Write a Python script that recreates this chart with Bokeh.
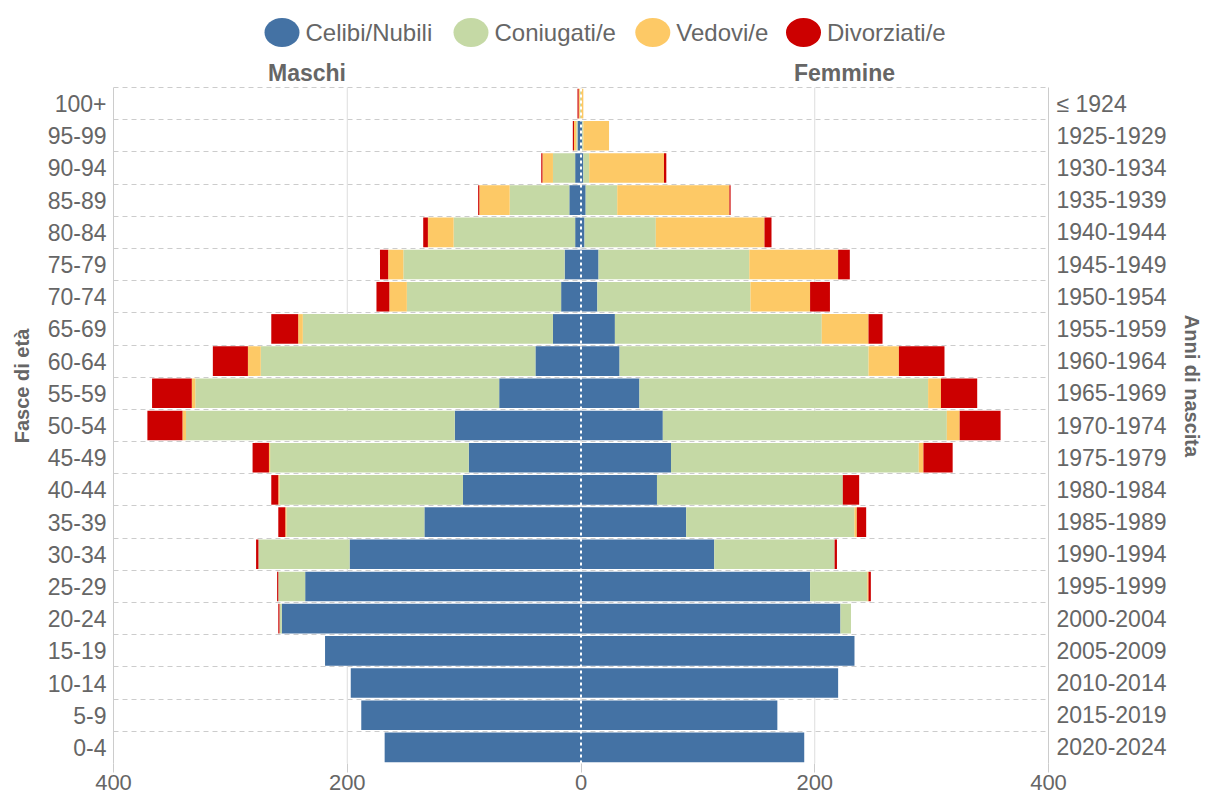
from bokeh.plotting import figure
from bokeh.models import (ColumnDataSource, Range1d, FixedTicker, LinearAxis,
                          CustomJSTickFormatter)
from bokeh.core.properties import value
from bokeh.embed import file_html
from bokeh.resources import INLINE

# ---------------- data (top row first) ----------------
age_groups = ["100+", "95-99", "90-94", "85-89", "80-84", "75-79", "70-74", "65-69",
              "60-64", "55-59", "50-54", "45-49", "40-44", "35-39", "30-34", "25-29",
              "20-24", "15-19", "10-14", "5-9", "0-4"]
birth_years = ["≤ 1924", "1925-1929", "1930-1934", "1935-1939", "1940-1944", "1945-1949",
               "1950-1954", "1955-1959", "1960-1964", "1965-1969", "1970-1974", "1975-1979",
               "1980-1984", "1985-1989", "1990-1994", "1995-1999", "2000-2004", "2005-2009",
               "2010-2014", "2015-2019", "2020-2024"]
series_names = ["Celibi/Nubili", "Coniugati/e", "Vedovi/e", "Divorziati/e"]
colors = ["#4472a4", "#c5d9a5", "#fdc966", "#cc0000"]

male_celibi = [0, 3, 5, 10, 5, 14, 17, 24, 39, 70, 108, 96, 101, 134, 198, 236, 256, 219, 197, 188, 168]
male_coniugati = [1, 1, 19, 51, 104, 138, 132, 214, 235, 260, 230, 170, 157, 118, 78, 23, 2, 0, 0, 0, 0]
male_vedovi = [1, 2, 9, 26, 22, 13, 15, 4, 11, 3, 3, 1, 1, 1, 0, 0, 0, 0, 0, 0, 0]
male_divorziati = [1, 1, 1, 1, 4, 7, 11, 23, 30, 34, 30, 14, 6, 6, 2, 1, 1, 0, 0, 0, 0]

female_celibi = [0, 1, 2, 4, 3, 15, 14, 29, 33, 50, 70, 77, 65, 90, 114, 196, 222, 234, 220, 168, 191]
female_coniugati = [0, 1, 5, 27, 61, 129, 131, 177, 213, 247, 243, 212, 159, 144, 103, 49, 9, 0, 0, 0, 0]
female_vedovi = [2, 22, 64, 96, 93, 76, 51, 40, 26, 11, 11, 4, 0, 2, 0, 1, 0, 0, 0, 0, 0]
female_divorziati = [0, 0, 2, 1, 6, 10, 17, 12, 39, 31, 35, 25, 14, 8, 2, 2, 0, 0, 0, 0, 0]

x_ticks = [-400, -200, 0, 200, 400]
side_titles = ["Maschi", "Femmine"]

# ---------------- styling / layout constants (pixels) ----------------
FONT = "Liberation Sans"
GRAY = "#666666"
X_MIN, X_MAX = -400, 400
B_LEFT, B_RIGHT, B_TOP, B_BOTTOM = 113, 158, 8, 38
FRAME_W = 935
HEADER_H = 79          # space above the bars for legend + side titles
BARS_H = 676
FIG_W = B_LEFT + FRAME_W + B_RIGHT
FIG_H = B_TOP + HEADER_H + BARS_H + B_BOTTOM
LEGEND_UP = 55         # legend centre, px above the bar region
TITLES_UP = 15         # Maschi/Femmine centre, px above the bar region
legend_key_px = [168.5, 357.5, 539.3, 690.0]   # legend key centres, px from frame left
LEGEND_TEXT_GAP = 23.5
titles_px = [193.5, 731.0]                     # side-title centres, px from frame left

n = len(age_groups)
ypos = [n - 1 - i for i in range(n)]
units_per_px_y = n / BARS_H
units_per_px_x = (X_MAX - X_MIN) / FRAME_W
top_row_edge = n - 0.5


def px_to_x(px):
    return X_MIN + px * units_per_px_x


def up_to_y(px_up):
    return top_row_edge + px_up * units_per_px_y


# ---------------- figure ----------------
src = ColumnDataSource(dict(
    y=ypos,
    m0=[-v for v in male_celibi], m1=[-v for v in male_coniugati],
    m2=[-v for v in male_vedovi], m3=[-v for v in male_divorziati],
    f0=female_celibi, f1=female_coniugati, f2=female_vedovi, f3=female_divorziati,
))

p = figure(width=FIG_W, height=FIG_H,
           x_range=Range1d(X_MIN, X_MAX), y_range=Range1d(-0.5, up_to_y(HEADER_H)),
           output_backend="svg", toolbar_location=None,
           min_border_left=B_LEFT, min_border_right=B_RIGHT,
           min_border_top=B_TOP, min_border_bottom=B_BOTTOM,
           background_fill_color="white", border_fill_color="white")
p.outline_line_color = None
p.xgrid.visible = False

# vertical grid lines, limited to the bar region
grid_src = ColumnDataSource(dict(x=x_ticks, y0=[-0.5] * len(x_ticks), y1=[top_row_edge] * len(x_ticks)))
p.segment(x0="x", x1="x", y0="y0", y1="y1", line_color="#dddddd", line_width=1, source=grid_src)

p.hbar_stack(["m0", "m1", "m2", "m3"], y="y", height=0.92, color=colors, line_color=None, source=src)
p.hbar_stack(["f0", "f1", "f2", "f3"], y="y", height=0.92, color=colors, line_color=None, source=src)

# x axis
p.xaxis.ticker = FixedTicker(ticks=x_ticks)
p.xaxis.formatter = CustomJSTickFormatter(code="return Math.abs(tick).toString()")
p.xaxis.axis_line_color = None
p.xaxis.major_tick_line_color = "#cccccc"
p.xaxis.major_tick_out = 9
p.xaxis.major_tick_in = 0
p.xaxis.minor_tick_line_color = None
p.xaxis.major_label_standoff = 2
p.xaxis.major_label_text_font = FONT
p.xaxis.major_label_text_font_size = "22px"
p.xaxis.major_label_text_color = GRAY

# left y axis
yl = p.yaxis[0]
yl.ticker = FixedTicker(ticks=ypos)
yl.bounds = (-0.5, top_row_edge)
yl.major_label_overrides = {y: lab for y, lab in zip(ypos, age_groups)}
yl.axis_line_color = "#cccccc"
yl.major_tick_line_color = None
yl.major_tick_out = 0
yl.major_tick_in = 0
yl.minor_tick_line_color = None
yl.major_label_standoff = 7
yl.major_label_text_font = FONT
yl.major_label_text_font_size = "23px"
yl.major_label_text_color = GRAY
yl.axis_label = "Fasce di età"
yl.axis_label_text_font = FONT
yl.axis_label_text_font_size = "20px"
yl.axis_label_text_font_style = "bold"
yl.axis_label_text_color = GRAY
yl.axis_label_standoff = 12

# right y axis
yr = LinearAxis(ticker=FixedTicker(ticks=ypos), bounds=(-0.5, top_row_edge),
                major_label_overrides={y: lab for y, lab in zip(ypos, birth_years)})
yr.axis_line_color = "#cccccc"
yr.major_tick_line_color = None
yr.major_tick_out = 0
yr.major_tick_in = 0
yr.minor_tick_line_color = None
yr.major_label_standoff = 8
yr.major_label_text_font = FONT
yr.major_label_text_font_size = "23px"
yr.major_label_text_color = GRAY
yr.axis_label = "Anni di nascita"
yr.axis_label_text_font = FONT
yr.axis_label_text_font_size = "20px"
yr.axis_label_text_font_style = "bold"
yr.axis_label_text_color = GRAY
yr.axis_label_standoff = 12
p.add_layout(yr, "right")

# horizontal dashed lines between the rows
p.ygrid.ticker = FixedTicker(ticks=[i - 0.5 for i in range(n + 1)])
p.ygrid.grid_line_color = "#cccccc"
p.ygrid.grid_line_dash = "5 4"

# centre dotted line over the bars
dot_src = ColumnDataSource(dict(x=[0], y0=[-0.5], y1=[top_row_edge]))
p.segment(x0="x", x1="x", y0="y0", y1="y1", line_color="white", line_dash="3 3",
          line_width=2, source=dot_src)

# side titles
title_src = ColumnDataSource(dict(x=[px_to_x(v) for v in titles_px],
                                  y=[up_to_y(TITLES_UP)] * 2, text=side_titles))
p.text(x="x", y="y", text="text", text_align="center", text_baseline="middle",
       text_font=value(FONT), text_font_size="23px", text_font_style="bold",
       text_color=GRAY, source=title_src)

# legend keys (ovals) and labels
key_src = ColumnDataSource(dict(
    x=[px_to_x(v) for v in legend_key_px],
    tx=[px_to_x(v + LEGEND_TEXT_GAP) for v in legend_key_px],
    y=[up_to_y(LEGEND_UP)] * len(series_names),
    label=series_names,
    color=colors,
))
p.ellipse(x="x", y="y", width=35, height=29, width_units="screen", height_units="screen",
          fill_color="color", line_color=None, source=key_src)
p.text(x="tx", y="y", text="label", text_baseline="middle", text_align="left",
       text_font=value(FONT), text_font_size="24px", text_color=GRAY, source=key_src)

open("out.html", "w").write(file_html(p, INLINE))
